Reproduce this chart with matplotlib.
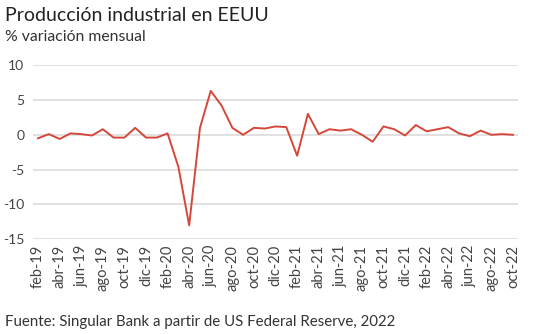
import matplotlib.pyplot as plt

plt.rcParams['font.family'] = ['Lato', 'DejaVu Sans']

# months from feb-19 to oct-22
months = ['feb-19', 'mar-19', 'abr-19', 'may-19', 'jun-19', 'jul-19', 'ago-19', 'sep-19', 'oct-19', 'nov-19', 'dic-19',
          'ene-20', 'feb-20', 'mar-20', 'abr-20', 'may-20', 'jun-20', 'jul-20', 'ago-20', 'sep-20', 'oct-20', 'nov-20', 'dic-20',
          'ene-21', 'feb-21', 'mar-21', 'abr-21', 'may-21', 'jun-21', 'jul-21', 'ago-21', 'sep-21', 'oct-21', 'nov-21', 'dic-21',
          'ene-22', 'feb-22', 'mar-22', 'abr-22', 'may-22', 'jun-22', 'jul-22', 'ago-22', 'sep-22', 'oct-22']
variation = [-0.5, 0.1, -0.6, 0.2, 0.1, -0.1, 0.8, -0.4, -0.4, 1.0, -0.4,
             -0.4, 0.2, -4.6, -13.0, 1.0, 6.3, 4.2, 1.0, 0.0, 1.0, 0.9, 1.2,
             1.1, -3.0, 3.0, 0.1, 0.8, 0.6, 0.8, 0.0, -1.0, 1.2, 0.8, -0.1,
             1.4, 0.5, 0.8, 1.1, 0.2, -0.2, 0.6, 0.0, 0.1, 0.0]
yticks = [10, 5, 0, -5, -10, -15]

fig = plt.figure(figsize=(5.35, 3.34), dpi=100)
ax = fig.add_axes([0.061, 0.2835, 0.908, 0.5215])

x = list(range(len(months)))
ax.plot(x, variation, color='#d6473b', linewidth=1.4, zorder=3)

ax.set_xlim(-0.5, len(months) - 0.5)
ax.set_ylim(-15, 10)
ax.set_yticks(yticks)
ax.set_yticklabels([str(v) for v in yticks], fontsize=10, color='#444444')
ax.set_xticks(x[::2])
ax.set_xticklabels(months[::2], rotation=90, fontsize=10.5, color='#444444')
ax.tick_params(length=0, pad=4)
ax.tick_params(axis='y', pad=6)

ax.grid(axis='y', color='#d9d9d9', linewidth=1.1)
ax.set_axisbelow(True)
for s in ax.spines.values():
    s.set_visible(False)

fig.text(0.009, 0.955, 'Producción industrial en EEUU', fontsize=14, color='#222222', va='center')
fig.text(0.009, 0.888, '% variación mensual', fontsize=11.3, color='#333333', va='center')
fig.text(0.009, 0.036, 'Fuente: Singular Bank a partir de US Federal Reserve, 2022', fontsize=10.8,
         color='#333333', va='center')

fig.savefig('out.png', dpi=100)
